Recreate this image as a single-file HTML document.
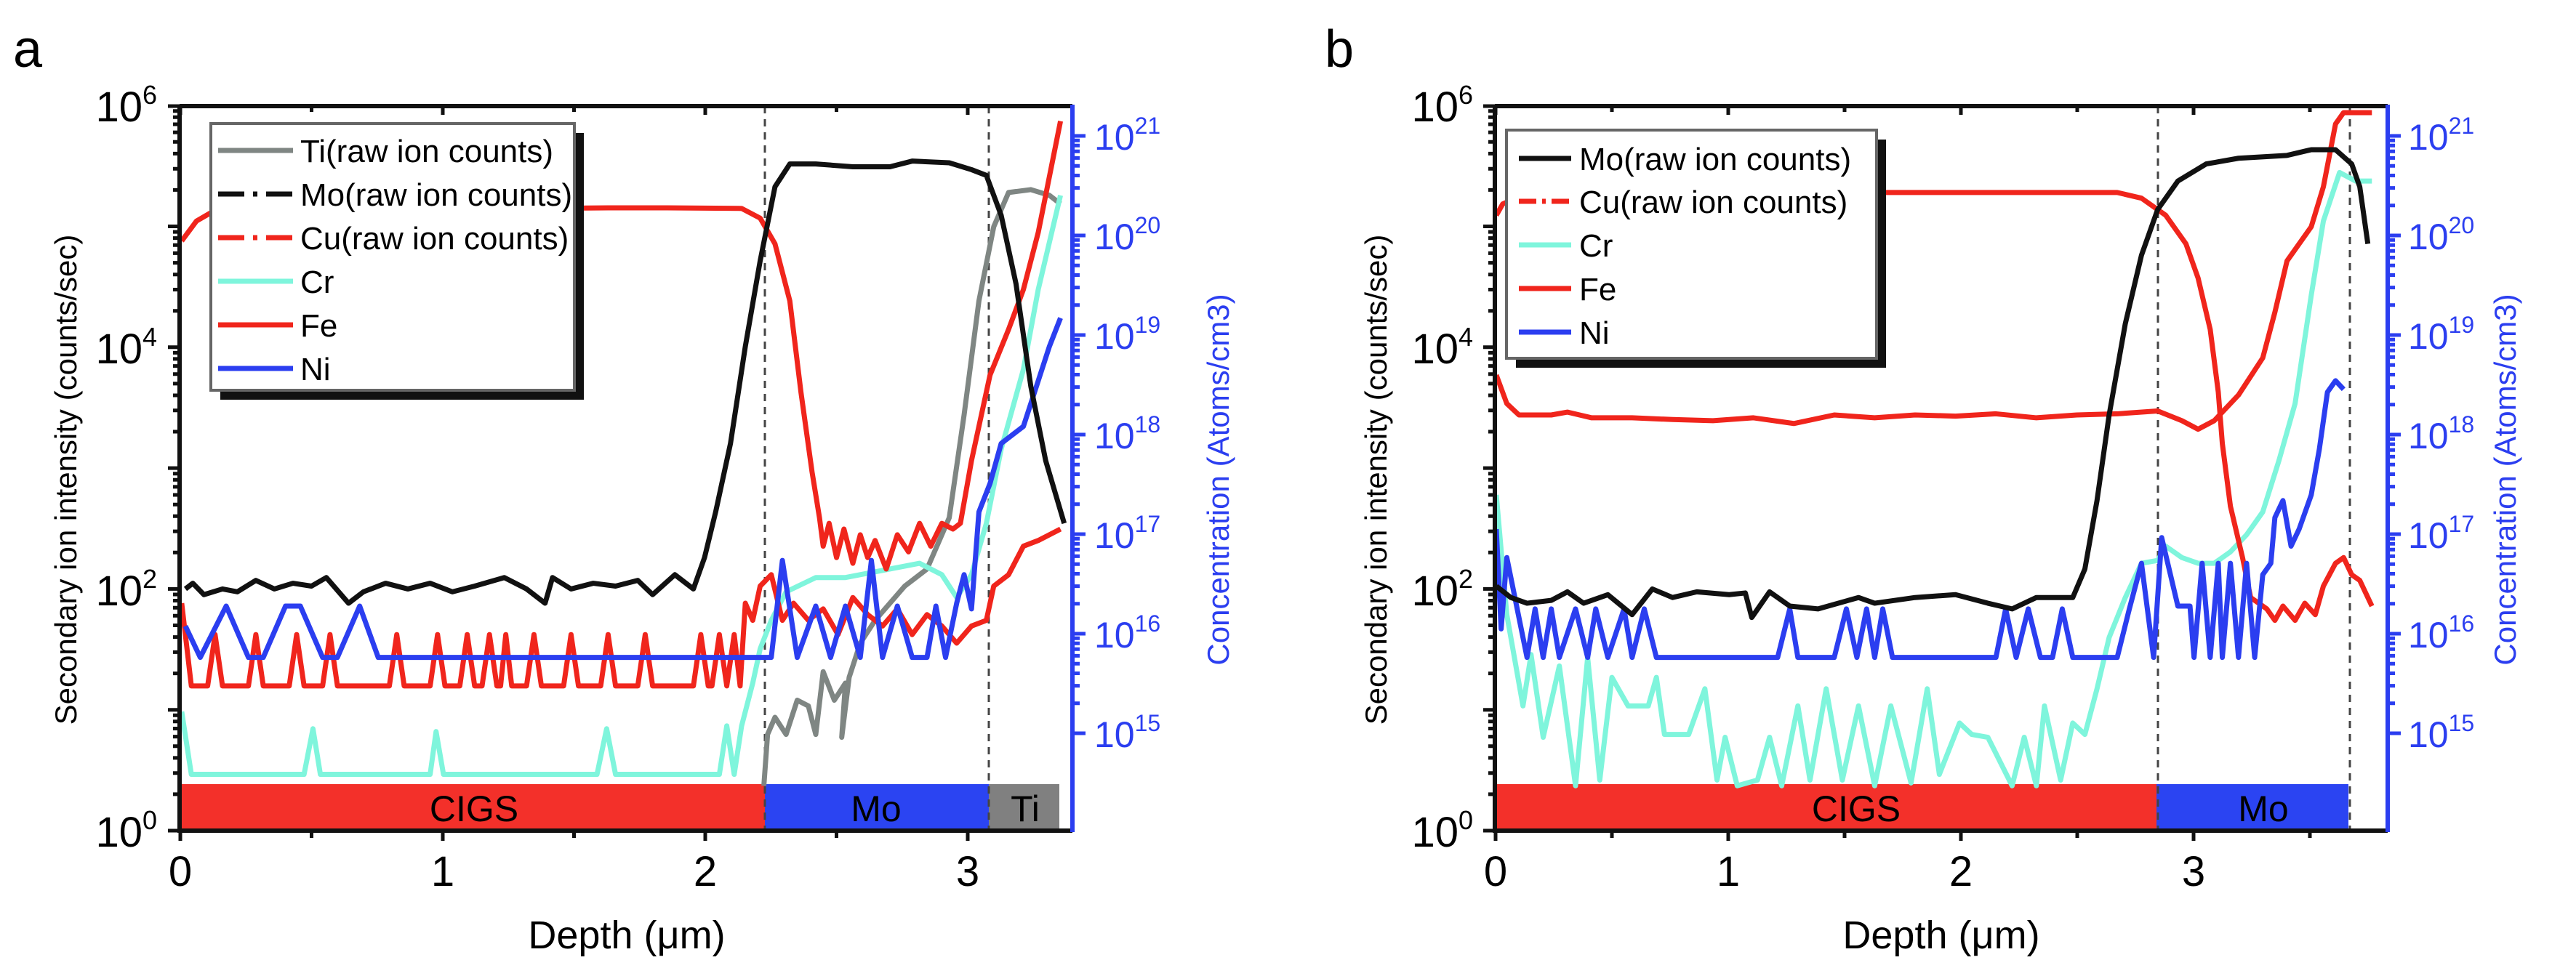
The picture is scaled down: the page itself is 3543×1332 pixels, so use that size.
<!DOCTYPE html>
<html><head><meta charset="utf-8"><style>
html,body{margin:0;padding:0;background:#fff;}
svg{display:block;font-family:"Liberation Sans",sans-serif;}
</style></head><body>
<svg width="3543" height="1332" viewBox="0 0 3543 1332" xmlns="http://www.w3.org/2000/svg">
<text x="18" y="92" font-size="72">a</text>
<text x="1822" y="92" font-size="72">b</text>

<!-- ================= PANEL A ================= -->
<g id="pa">
<rect x="247" y="1079" width="805" height="63" fill="#f3302a"/>
<rect x="1052" y="1079" width="308" height="63" fill="#2b44f2"/>
<rect x="1360" y="1079" width="97" height="63" fill="#808080"/>
<text x="652" y="1130" font-size="50" text-anchor="middle">CIGS</text>
<text x="1205" y="1130" font-size="50" text-anchor="middle">Mo</text>
<text x="1410" y="1130" font-size="50" text-anchor="middle">Ti</text>
<line x1="1052" y1="146" x2="1052" y2="1142" stroke="#444" stroke-width="3" stroke-dasharray="10,8"/>
<line x1="1360" y1="146" x2="1360" y2="1142" stroke="#444" stroke-width="3" stroke-dasharray="10,8"/>

<g transform="translate(0,100) scale(1.02,0.785)" fill="none" stroke-width="7" stroke-linejoin="round">
<polyline vector-effect="non-scaling-stroke" stroke="#7f8683" points="1030,1250 1035,1160 1045,1130 1060,1160 1075,1100 1090,1110 1100,1160 1110,1050 1125,1100 1140,1070 1135,1165 1145,1060 1160,1000 1180,960 1220,900 1250,870 1280,780 1300,600 1320,400 1340,270 1360,210 1390,205 1415,215 1430,230"/>
<polyline vector-effect="non-scaling-stroke" stroke="#7ff5dc" points="245,1120 258,1230 410,1230 422,1150 432,1230 580,1230 588,1155 598,1230 805,1230 818,1150 830,1230 970,1230 980,1145 990,1230 1000,1145 1015,1070 1025,1010 1040,960 1060,910 1100,885 1140,885 1200,870 1240,860 1270,880 1290,920 1310,880 1330,790 1350,660 1380,520 1400,380 1430,215"/>
<polyline vector-effect="non-scaling-stroke" stroke="#f0251c" points="245,930 258,1075 280,1075 290,985 300,1075 335,1075 345,985 355,1075 390,1075 400,985 410,1075 435,1075 445,985 455,1075 525,1075 535,985 545,1075 580,1075 590,985 600,1075 620,1075 630,985 640,1075 650,1075 660,985 670,1075 675,1075 682,985 690,1075 710,1075 720,985 730,1075 760,1075 770,985 780,1075 810,1075 820,985 830,1075 860,1075 870,985 880,1075 935,1075 945,985 955,1075 960,1075 970,985 980,1075 990,985 998,1075 1005,930 1015,960 1025,900 1040,880 1055,960 1070,930 1090,960 1110,940 1130,985 1150,920 1170,950 1190,970 1210,940 1230,985 1250,950 1270,970 1290,1000 1310,970 1330,960 1340,900 1360,880 1380,830 1400,820 1430,800"/>
<polyline vector-effect="non-scaling-stroke" stroke="#f0251c" points="245,295 265,260 285,245 500,240 820,237 900,237 1000,238 1025,255 1045,300 1065,400 1080,560 1095,700 1105,780 1110,830 1118,790 1128,850 1138,800 1150,860 1160,810 1170,850 1180,820 1195,870 1210,810 1225,840 1240,790 1255,830 1270,790 1285,800 1295,790 1310,680 1335,530 1360,450 1380,380 1400,280 1430,85"/>
<polyline vector-effect="non-scaling-stroke" stroke="#2b3ef0" points="250,970 270,1025 305,935 335,1025 355,1025 385,935 405,935 435,1025 455,1025 485,935 510,1025 1040,1025 1055,855 1075,1025 1100,935 1120,1025 1140,935 1160,1025 1175,855 1190,1025 1210,935 1230,1025 1250,1025 1262,935 1275,1025 1290,930 1300,880 1310,940 1320,770 1335,720 1350,650 1380,620 1400,540 1415,480 1430,430"/>
<polyline vector-effect="non-scaling-stroke" stroke="#111" points="250,905 260,895 275,915 300,905 320,910 345,890 370,905 395,895 420,900 440,885 470,930 490,910 520,895 550,905 580,895 610,910 640,900 680,885 710,905 735,930 745,885 770,905 800,895 830,900 860,890 880,915 910,880 935,905 950,850 965,770 985,650 1005,480 1025,330 1045,200 1065,160 1100,160 1150,165 1200,165 1230,155 1280,158 1310,170 1330,180 1350,250 1370,370 1390,550 1410,680 1435,790"/>
</g>

<rect x="303" y="183" width="500" height="367" fill="#111"/>
<rect x="290" y="170" width="500" height="367" fill="#fff" stroke="#666" stroke-width="4"/>
<g stroke-width="7">
<line x1="300" y1="207" x2="403" y2="207" stroke="#7f8683"/>
<line x1="300" y1="267" x2="403" y2="267" stroke="#111" stroke-dasharray="36,12,6,12"/>
<line x1="300" y1="327" x2="403" y2="327" stroke="#f0251c" stroke-dasharray="36,12,6,12"/>
<line x1="300" y1="387" x2="403" y2="387" stroke="#7ff5dc"/>
<line x1="300" y1="447" x2="403" y2="447" stroke="#f0251c"/>
<line x1="300" y1="507" x2="403" y2="507" stroke="#2b3ef0"/>
</g>
<g font-size="44">
<text x="413" y="223">Ti(raw ion counts)</text>
<text x="413" y="283">Mo(raw ion counts)</text>
<text x="413" y="343">Cu(raw ion counts)</text>
<text x="413" y="403">Cr</text>
<text x="413" y="463">Fe</text>
<text x="413" y="523">Ni</text>
</g>

<path d="M247,146 H1475 M247,146 V1143 H1475" fill="none" stroke="#111" stroke-width="6"/>
<line x1="1475" y1="144" x2="1475" y2="1145" stroke="#2b3ef0" stroke-width="6"/>
<g id="ticksA"></g>
<g font-size="58" text-anchor="end">
<text x="216" y="167">10<tspan font-size="36" dy="-24">6</tspan></text>
<text x="216" y="500">10<tspan font-size="36" dy="-24">4</tspan></text>
<text x="216" y="833">10<tspan font-size="36" dy="-24">2</tspan></text>
<text x="216" y="1165">10<tspan font-size="36" dy="-24">0</tspan></text>
</g>
<g font-size="58" text-anchor="middle">
<text x="248" y="1219">0</text>
<text x="609" y="1219">1</text>
<text x="970" y="1219">2</text>
<text x="1331" y="1219">3</text>
</g>
<g font-size="50" fill="#2b3ef0">
<text x="1505" y="206">10<tspan font-size="32" dy="-22">21</tspan></text>
<text x="1505" y="343">10<tspan font-size="32" dy="-22">20</tspan></text>
<text x="1505" y="480">10<tspan font-size="32" dy="-22">19</tspan></text>
<text x="1505" y="617">10<tspan font-size="32" dy="-22">18</tspan></text>
<text x="1505" y="754">10<tspan font-size="32" dy="-22">17</tspan></text>
<text x="1505" y="891">10<tspan font-size="32" dy="-22">16</tspan></text>
<text x="1505" y="1028">10<tspan font-size="32" dy="-22">15</tspan></text>
</g>
<text x="862" y="1305" font-size="54" text-anchor="middle">Depth (μm)</text>
<text transform="translate(105,660) rotate(-90)" font-size="42" text-anchor="middle">Secondary ion intensity (counts/sec)</text>
<text transform="translate(1690,660) rotate(-90)" font-size="42" text-anchor="middle" fill="#2b3ef0">Concentration (Atoms/cm3)</text>
</g>

<!-- ================= PANEL B ================= -->
<g id="pb">
<rect x="2056" y="1079" width="910" height="63" fill="#f3302a"/>
<rect x="2966" y="1079" width="264" height="63" fill="#2b44f2"/>
<text x="2553" y="1130" font-size="50" text-anchor="middle">CIGS</text>
<text x="3113" y="1130" font-size="50" text-anchor="middle">Mo</text>
<line x1="2968" y1="146" x2="2968" y2="1142" stroke="#444" stroke-width="3" stroke-dasharray="10,8"/>
<line x1="3232" y1="146" x2="3232" y2="1142" stroke="#444" stroke-width="3" stroke-dasharray="10,8"/>

<g transform="translate(1800,100) scale(1.112,0.785)" fill="none" stroke-width="7" stroke-linejoin="round">
<polyline vector-effect="non-scaling-stroke" stroke="#7ff5dc" points="232,740 245,950 265,1110 275,1020 290,1165 310,1040 330,1250 345,1025 360,1240 375,1060 395,1110 420,1110 430,1060 440,1160 470,1160 490,1080 505,1240 515,1165 530,1250 555,1240 570,1165 585,1250 605,1110 620,1240 640,1080 660,1240 680,1110 700,1250 720,1110 745,1245 765,1080 780,1230 805,1140 820,1160 840,1165 870,1250 885,1165 900,1250 910,1110 930,1240 945,1140 960,1160 975,1080 990,990 1010,920 1030,860 1050,855 1060,830 1080,850 1100,860 1120,860 1140,840 1160,810 1180,770 1200,680 1220,580 1240,390 1255,260 1275,175 1295,190 1315,190"/>
<polyline vector-effect="non-scaling-stroke" stroke="#f0251c" points="232,530 245,580 260,600 300,600 320,595 350,605 400,605 450,608 500,610 550,605 600,615 650,600 700,605 750,600 800,602 850,598 900,605 950,600 1000,598 1050,593 1080,610 1100,625 1120,610 1150,565 1180,500 1195,420 1210,330 1240,270 1255,200 1270,90 1280,70 1315,70"/>
<polyline vector-effect="non-scaling-stroke" stroke="#f0251c" points="232,250 240,230 265,215 705,210 800,210 900,210 1000,210 1030,220 1060,250 1085,300 1100,360 1115,450 1125,560 1130,650 1140,760 1155,850 1165,920 1185,940 1195,960 1205,935 1220,960 1232,930 1245,950 1255,900 1270,860 1280,850 1290,880 1300,890 1315,935"/>
<polyline vector-effect="non-scaling-stroke" stroke="#2b3ef0" points="232,800 238,975 245,850 270,1025 280,940 290,1025 300,940 310,1025 330,940 345,1025 355,940 370,1025 390,940 400,1025 415,940 430,1025 580,1025 595,940 605,1025 650,1025 665,940 678,1025 690,940 700,1025 710,940 722,1025 850,1025 862,940 875,1025 890,940 905,1025 920,1025 932,940 945,1025 1000,1025 1015,940 1030,860 1045,1025 1055,815 1075,935 1090,935 1095,1025 1105,860 1115,1025 1125,860 1130,1025 1140,860 1150,1025 1160,860 1170,1025 1180,880 1190,860 1195,780 1205,750 1215,830 1225,800 1240,740 1250,660 1260,560 1270,540 1280,555"/>
<polyline vector-effect="non-scaling-stroke" stroke="#111" points="232,900 250,920 270,930 300,925 320,910 340,930 370,915 400,950 425,905 450,920 480,910 520,915 540,912 548,955 570,910 595,935 630,940 680,920 700,930 750,920 800,915 840,930 870,940 900,920 945,920 960,870 975,750 990,600 1010,440 1030,320 1050,240 1075,190 1110,160 1150,150 1210,145 1240,135 1270,135 1290,160 1300,200 1310,300"/>
</g>

<rect x="2085" y="192" width="509" height="314" fill="#111"/>
<rect x="2072" y="179" width="509" height="314" fill="#fff" stroke="#666" stroke-width="4"/>
<g stroke-width="7">
<line x1="2089" y1="218" x2="2161" y2="218" stroke="#111"/>
<line x1="2089" y1="277" x2="2161" y2="277" stroke="#f0251c" stroke-dasharray="24,8,5,8"/>
<line x1="2089" y1="337" x2="2161" y2="337" stroke="#7ff5dc"/>
<line x1="2089" y1="397" x2="2161" y2="397" stroke="#f0251c"/>
<line x1="2089" y1="457" x2="2161" y2="457" stroke="#2b3ef0"/>
</g>
<g font-size="44">
<text x="2172" y="234">Mo(raw ion counts)</text>
<text x="2172" y="293">Cu(raw ion counts)</text>
<text x="2172" y="353">Cr</text>
<text x="2172" y="413">Fe</text>
<text x="2172" y="473">Ni</text>
</g>

<path d="M2056,146 H3284 M2056,146 V1143 H3284" fill="none" stroke="#111" stroke-width="6"/>
<line x1="3284" y1="144" x2="3284" y2="1145" stroke="#2b3ef0" stroke-width="6"/>
<g id="ticksB"></g>
<g font-size="58" text-anchor="end">
<text x="2026" y="167">10<tspan font-size="36" dy="-24">6</tspan></text>
<text x="2026" y="500">10<tspan font-size="36" dy="-24">4</tspan></text>
<text x="2026" y="833">10<tspan font-size="36" dy="-24">2</tspan></text>
<text x="2026" y="1165">10<tspan font-size="36" dy="-24">0</tspan></text>
</g>
<g font-size="58" text-anchor="middle">
<text x="2057" y="1219">0</text>
<text x="2377" y="1219">1</text>
<text x="2697" y="1219">2</text>
<text x="3017" y="1219">3</text>
</g>
<g font-size="50" fill="#2b3ef0">
<text x="3312" y="206">10<tspan font-size="32" dy="-22">21</tspan></text>
<text x="3312" y="343">10<tspan font-size="32" dy="-22">20</tspan></text>
<text x="3312" y="480">10<tspan font-size="32" dy="-22">19</tspan></text>
<text x="3312" y="617">10<tspan font-size="32" dy="-22">18</tspan></text>
<text x="3312" y="754">10<tspan font-size="32" dy="-22">17</tspan></text>
<text x="3312" y="891">10<tspan font-size="32" dy="-22">16</tspan></text>
<text x="3312" y="1028">10<tspan font-size="32" dy="-22">15</tspan></text>
</g>
<text x="2670" y="1305" font-size="54" text-anchor="middle">Depth (μm)</text>
<text transform="translate(1907,660) rotate(-90)" font-size="42" text-anchor="middle">Secondary ion intensity (counts/sec)</text>
<text transform="translate(3460,660) rotate(-90)" font-size="42" text-anchor="middle" fill="#2b3ef0">Concentration (Atoms/cm3)</text>
</g>
</svg>
<script>
(function(){
var NS="http://www.w3.org/2000/svg";
function ticks(gid,L,R,x0,px){
 var g=document.getElementById(gid),d="",db="";
 var top=146,bot=1143,dec=166.3;
 for(var k=0;k<6;k++){for(var m=1;m<10;m++){var y=bot-dec*(k+Math.log10(m));
  d+="M"+L+","+y.toFixed(1)+"h"+(m==1?-16:-9);}}
 d+="M"+L+","+top+"h-16";
 for(var i=0;i*0.5*px+x0<=R;i++){var x=x0+i*0.5*px;
  d+="M"+x.toFixed(1)+","+bot+"v"+(i%2==0?14:10)+"M"+x.toFixed(1)+","+top+"v"+(i%2==0?12:8);}
 var p=document.createElementNS(NS,"path");p.setAttribute("d",d);p.setAttribute("stroke","#111");p.setAttribute("stroke-width","5");g.appendChild(p);
 var r0=187,rd=137;
 for(var k=-2;k<7;k++){for(var m=1;m<10;m++){var y=r0+rd*k-rd*Math.log10(m);
  if(y<150||y>1140)continue;db+="M"+R+","+y.toFixed(1)+"h"+(m==1?18:10);}}
 var q=document.createElementNS(NS,"path");q.setAttribute("d",db);q.setAttribute("stroke","#2b3ef0");q.setAttribute("stroke-width","5");g.appendChild(q);
}
ticks("ticksA",247,1475,248,361);
ticks("ticksB",2056,3284,2057,320);
})();
</script>
</body></html>
